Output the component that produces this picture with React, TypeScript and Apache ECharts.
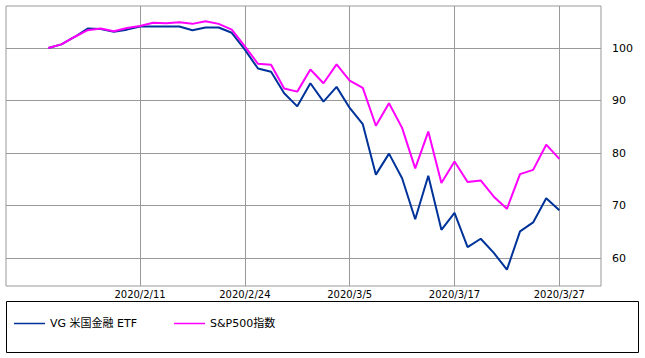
import React, { useEffect, useRef } from "react";
import * as echarts from "echarts";

const dates = [
  "2020/1/31", "2020/2/3", "2020/2/4", "2020/2/5", "2020/2/6", "2020/2/7", "2020/2/10",
  "2020/2/11", "2020/2/12", "2020/2/13", "2020/2/14", "2020/2/18", "2020/2/19", "2020/2/20",
  "2020/2/21", "2020/2/24", "2020/2/25", "2020/2/26", "2020/2/27", "2020/2/28", "2020/3/2",
  "2020/3/3", "2020/3/4", "2020/3/5", "2020/3/6", "2020/3/9", "2020/3/10", "2020/3/11",
  "2020/3/12", "2020/3/13", "2020/3/16", "2020/3/17", "2020/3/18", "2020/3/19", "2020/3/20",
  "2020/3/23", "2020/3/24", "2020/3/25", "2020/3/26", "2020/3/27",
];

const vgFinancials = [
  100, 100.7, 102.1, 103.7, 103.6, 103.1, 103.5, 104.1, 104.1, 104.1, 104.1, 103.4, 103.9,
  103.9, 102.9, 99.7, 96.1, 95.5, 91.4, 88.9, 93.3, 89.8, 92.6, 88.6, 85.5, 75.9, 79.9, 75.2,
  67.4, 75.7, 65.4, 68.6, 62.1, 63.7, 61.0, 57.8, 65.1, 66.8, 71.4, 69.1,
];

const sp500 = [
  100, 100.7, 102.1, 103.4, 103.7, 103.2, 103.8, 104.2, 104.8, 104.7, 104.9, 104.6, 105.1,
  104.6, 103.5, 100.3, 97.0, 96.8, 92.3, 91.7, 95.9, 93.3, 96.9, 93.8, 92.4, 85.2, 89.5, 84.8,
  77.1, 84.1, 74.3, 78.4, 74.5, 74.8, 71.7, 69.4, 76.0, 76.8, 81.6, 78.9,
];

const xLabelIndices = [7, 15, 23, 31, 39];
const yTicks = [60, 70, 80, 90, 100];

const seriesNames = ["VG 米国金融 ETF", "S&P500指数"];

export default function App() {
  const ref = useRef<HTMLDivElement>(null);
  useEffect(() => {
    document.body.style.margin = "0";
    const chart = echarts.init(ref.current!, null, { renderer: "svg" });
    const font = "DejaVu Sans";
    chart.setOption({
      animation: false,
      backgroundColor: "#fff",
      grid: {
        left: 6,
        right: 44,
        top: 6,
        bottom: 72,
        show: true,
        borderColor: "#999",
        borderWidth: 1,
      },
      xAxis: {
        type: "value",
        min: -3.23,
        max: 42.18,
        axisLine: { show: false },
        axisTick: { show: false, customValues: xLabelIndices },
        axisLabel: {
          customValues: xLabelIndices,
          formatter: (v: number) => dates[Math.round(v)],
          fontFamily: font,
          fontSize: 10,
          color: "#000",
          margin: 3,
        },
        splitLine: { show: true, lineStyle: { color: "#999", width: 1 } },
      },
      yAxis: {
        type: "value",
        position: "right",
        min: 54.7,
        max: 108,
        axisLine: { show: false },
        axisTick: { show: true, length: 6, customValues: yTicks, lineStyle: { color: "#999" } },
        axisLabel: {
          customValues: yTicks,
          fontFamily: font,
          fontSize: 11,
          color: "#000",
          margin: 11,
        },
        splitLine: { show: true, lineStyle: { color: "#999", width: 1 } },
      },
      legend: [
        {
          data: [seriesNames[0]],
          left: 14,
          top: 318,
          padding: 0,
          icon: "rect",
          itemWidth: 31,
          itemHeight: 1.5,
          itemGap: 4,
          textStyle: { fontFamily: "DejaVu Sans, Noto Sans CJK JP", fontSize: 11, color: "#000" },
        },
        {
          data: [seriesNames[1]],
          left: 174,
          top: 318,
          padding: 0,
          icon: "rect",
          itemWidth: 31,
          itemHeight: 1.5,
          textStyle: { fontFamily: "DejaVu Sans, Noto Sans CJK JP", fontSize: 11, color: "#000" },
        },
      ],
      graphic: [
        {
          type: "rect",
          shape: { x: 6.5, y: 301.5, width: 632, height: 51 },
          style: { fill: "none", stroke: "#000", lineWidth: 1 },
          silent: true,
        },
      ],
      series: [
        {
          name: seriesNames[0],
          type: "line",
          data: vgFinancials.map((v, i) => [i, v]),
          symbol: "none",
          color: "#003399",
          lineStyle: { color: "#003399", width: 2 },
        },
        {
          name: seriesNames[1],
          type: "line",
          data: sp500.map((v, i) => [i, v]),
          symbol: "none",
          color: "#ff00ff",
          lineStyle: { color: "#ff00ff", width: 2 },
        },
      ],
    });
    return () => chart.dispose();
  }, []);
  return <div ref={ref} style={{ width: 645, height: 358 }} />;
}
